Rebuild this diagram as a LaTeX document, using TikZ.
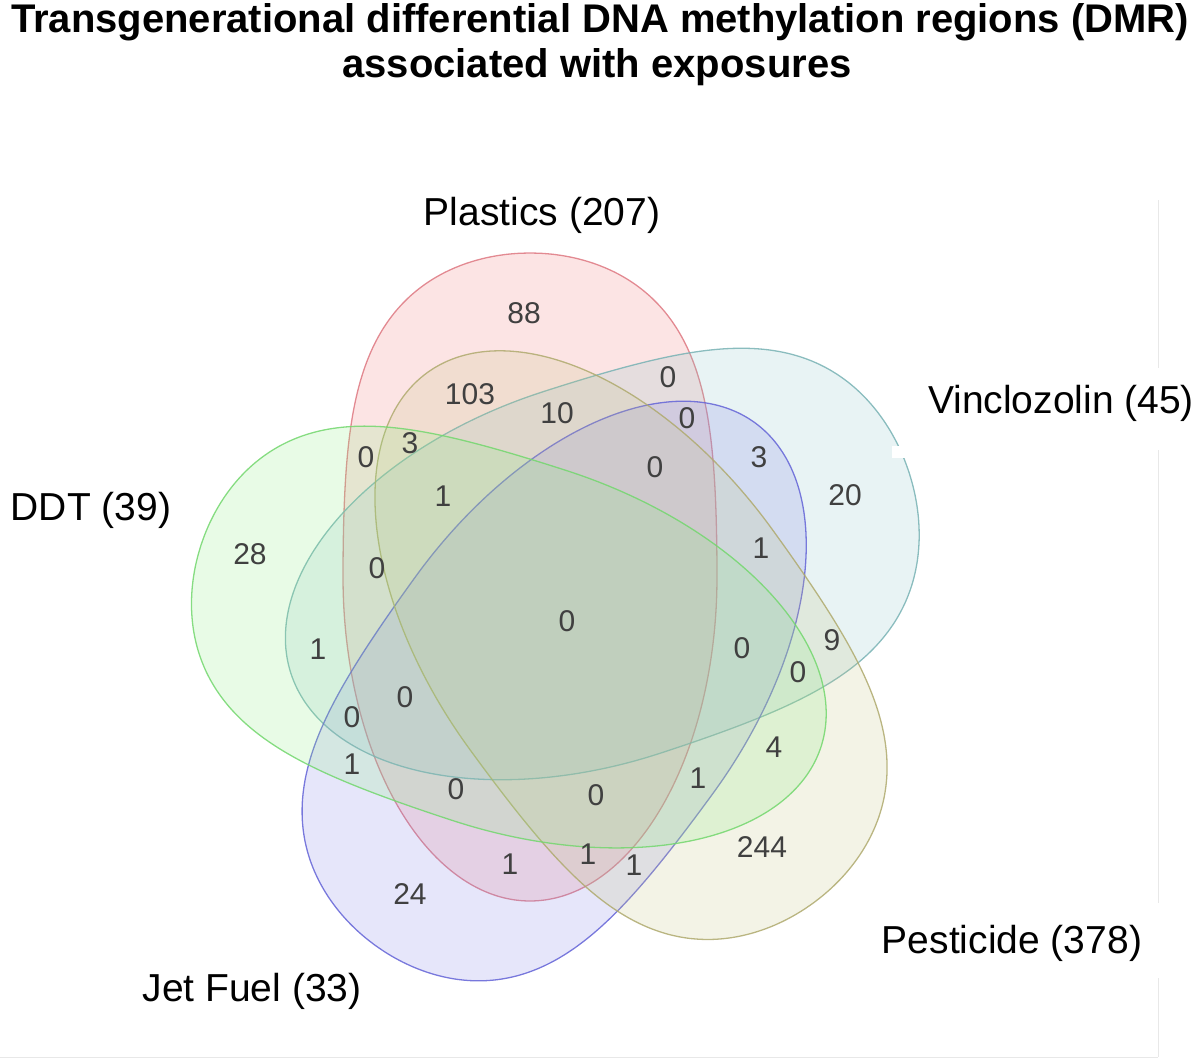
\documentclass[tikz,border=0pt]{standalone}
\usepackage{fontspec}
\setmainfont{Liberation Sans}
\definecolor{plasticsfill}{RGB}{240,120,120}
\definecolor{plasticsline}{RGB}{222,120,130}
\definecolor{vinclofill}{RGB}{140,195,200}
\definecolor{vincloline}{RGB}{120,178,180}
\definecolor{jetfill}{RGB}{130,130,230}
\definecolor{jetline}{RGB}{100,100,215}
\definecolor{pestfill}{RGB}{195,195,130}
\definecolor{pestline}{RGB}{175,170,110}
\definecolor{ddtfill}{RGB}{140,235,130}
\definecolor{ddtline}{RGB}{115,215,110}
\definecolor{countgray}{RGB}{64,64,64}
\begin{document}
\begin{tikzpicture}[
    x=1pt, y=-1pt,
    setshape/.style={fill=#1fill, draw=#1line, fill opacity=0.2, draw opacity=0.85, line width=1.3pt},
    regioncount/.style={text=countgray, font=\fontsize{30}{34}\selectfont, inner sep=0pt},
    setlabel/.style={anchor=base, font=\fontsize{39}{44}\selectfont, inner sep=0pt},
    headline/.style={anchor=base, font=\fontsize{40}{45}\selectfont\bfseries, inner sep=0pt},
    scanline/.style={draw=black!9, line width=1pt},
]
    \useasboundingbox (0,0) rectangle (1200,1061);

    % the five sets: egg shapes, blunt at the outer end
    \foreach \s/\cx/\cy/\r/\a/\b in {plastics/530/577/90/324/187, vinclo/600/573/18/325/190,
        jet/565/684/234/323/184, pest/620/638/-54/328/187, ddt/511/646/162/326/184}
        \draw[setshape=\s, shift={(\cx,\cy)}, rotate=\r]
            plot[domain=0:360, samples=145, smooth]
            ({\a*cos(\x)}, {\b*sin(\x)*(1+0.38*max(cos(\x),0)*max(cos(\x),0))}) -- cycle;

    % scan marks of the original figure
    \fill[white] (892,446) rectangle (905,458);
    \draw[scanline] (1158,200) -- (1158,368);
    \draw[scanline] (1158,450) -- (1158,903);
    \draw[scanline] (1158,978) -- (1158,1057);
    \draw[scanline] (0,1057) -- (1158,1057);

    % title
    \node[headline] (title1) at (600,32) {Transgenerational differential DNA methylation regions (DMR)};
    \node[headline] (title2) at (597,77) {associated with exposures};

    % set names
    \node[setlabel] (plastics) at (542,225) {Plastics (207)};
    \node[setlabel] (vinclo) at (1061,413) {Vinclozolin (45)};
    \node[setlabel] (ddt) at (91,520) {DDT (39)};
    \node[setlabel] (jet) at (252,1001) {Jet Fuel (33)};
    \node[setlabel] (pest) at (1012,953) {Pesticide (378)};

    % region counts
    \foreach \x/\y/\n [count=\i] in {
        524/313/88, 470/394/103, 557/413/10, 668/377/0, 687/418/0,
        410/443/3, 366/457/0, 759/457/3, 655/467/0, 845/495/20,
        443/496/1, 250/554/28, 761/548/1, 377/568/0, 567/621/0,
        318/649/1, 742/648/0, 832/640/9, 798/672/0, 405/697/0,
        352/717/0, 352/764/1, 774/747/4, 698/778/1, 456/789/0,
        596/795/0, 762/847/244, 510/864/1, 588/854/1, 634/865/1,
        410/894/24}
        \node[regioncount] (r\i) at (\x,\y) {\n};
\end{tikzpicture}
\end{document}
